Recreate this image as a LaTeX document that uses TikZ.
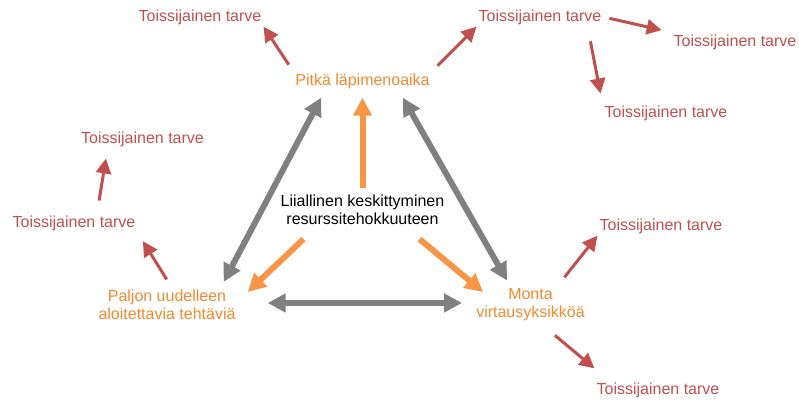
\documentclass[tikz,border=0pt]{standalone}
\usepackage{fontspec}
\setmainfont{Liberation Sans}
\usepackage{xcolor}
\usetikzlibrary{arrows.meta}
\definecolor{needred}{HTML}{C0504D}
\definecolor{effectorange}{HTML}{F79646}
\definecolor{effecttext}{HTML}{F08A2E}
\definecolor{loopgray}{HTML}{808080}
\tikzset{>=stealth,
  need/.style={text=needred,inner sep=2pt},
  effect/.style={text=effecttext,align=center,inner sep=2pt},
  needarrow/.style={draw=needred,line width=3pt,-{Triangle[length=15pt,width=15pt]}},
  looparrow/.style={draw=loopgray,line width=6pt,{Triangle[length=18pt,width=18pt]}-{Triangle[length=18pt,width=18pt]}},
  causearrow/.style={draw=effectorange,line width=6pt,-{Triangle[length=18pt,width=18pt]}}}

\begin{document}
\begin{tikzpicture}[x=1pt,y=-1pt,font=\fontsize{16}{18}\selectfont]
\useasboundingbox (0,0) rectangle (799,400);
\node[effect] (pitka) at (362.5,81) {Pitkä läpimenoaika};
\node[align=center,inner sep=2pt] (centre) at (362.5,210) {Liiallinen keskittyminen\\resurssitehokkuuteen};
\node[effect] (paljon) at (167,305) {Paljon uudelleen\\aloitettavia tehtäviä};
\node[effect] (monta) at (530.5,305) {Monta\\virtausyksikköä};
\node[need] (t1) at (200,17) {Toissijainen tarve};
\node[need] (t2) at (540,17) {Toissijainen tarve};
\node[need] (t3) at (735,42) {Toissijainen tarve};
\node[need] (t4) at (666,113) {Toissijainen tarve};
\node[need] (t5) at (142.5,139) {Toissijainen tarve};
\node[need] (t6) at (74,223) {Toissijainen tarve};
\node[need] (t7) at (661,226) {Toissijainen tarve};
\node[need] (t8) at (658,390) {Toissijainen tarve};
\draw[needarrow,shorten <=8pt] (pitka.north west) -- (t1.south east);
\draw[needarrow,shorten <=8pt] (pitka.north east) -- (t2.south west);
\draw[needarrow,shorten <=6pt,shorten >=10pt] (t2.east) -- (t3.north west);
\draw[needarrow,shorten <=15pt,shorten >=10pt] ([xshift=-16pt]t2.south east) -- (t4.north west);
\draw[needarrow,shorten <=10pt,shorten >=10pt] ([xshift=5pt]paljon.north) -- (t6.south east);
\draw[needarrow,shorten <=13pt,shorten >=10pt] ([xshift=23pt]t6.north) -- ([xshift=-35pt]t5.south);
\draw[needarrow,shorten <=12pt] ([xshift=-30pt]monta.north east) -- (t7.south west);
\draw[needarrow] ([xshift=-32pt,yshift=-12pt]monta.south east) -- ([yshift=12pt]t8.north west);
\draw[looparrow] ([xshift=28pt,yshift=-7pt]pitka.south west) -- ([xshift=-14pt,yshift=6pt]paljon.north east);
\draw[looparrow] ([xshift=-29pt,yshift=-7pt]pitka.south east) -- ([xshift=33pt,yshift=6pt]monta.north west);
\draw[looparrow,shorten <=30pt,shorten >=12pt] ([yshift=2pt]paljon.east) -- ([yshift=2pt]monta.west);
\draw[causearrow] ([yshift=5pt]centre.north) -- ([yshift=-7pt]pitka.south);
\draw[causearrow] ([xshift=25pt,yshift=-12pt]centre.south west) -- ([xshift=10pt,yshift=13pt]paljon.east);
\draw[causearrow] ([xshift=-27pt,yshift=-12pt]centre.south east) -- ([xshift=9pt,yshift=13pt]monta.west);
\end{tikzpicture}
\end{document}
